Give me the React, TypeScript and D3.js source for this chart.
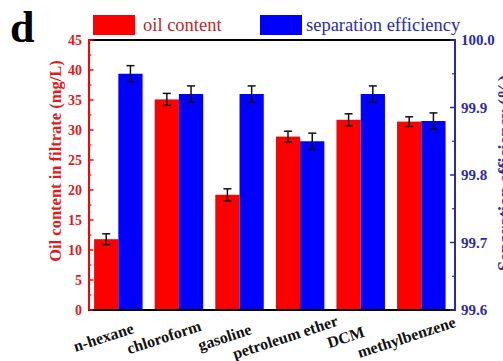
import React from 'react';
import * as d3 from 'd3';

const categories = ['n-hexane', 'chloroform', 'gasoline', 'petroleum ether', 'DCM', 'methylbenzene'];
const oilContent = [11.8, 35.1, 19.2, 28.9, 31.7, 31.4];
const oilErr = [0.9, 1.0, 1.0, 0.9, 1.0, 0.8];
const efficiency = [99.95, 99.92, 99.92, 99.85, 99.92, 99.88];
const effErr = [0.012, 0.012, 0.012, 0.012, 0.012, 0.012];
const leftTicks = [0, 5, 10, 15, 20, 25, 30, 35, 40, 45];
const rightTicks = [99.6, 99.7, 99.8, 99.9, 100.0];
const seriesNames = ['oil content', 'separation efficiency'];

const W = 503;
const H = 361;
const M = { left: 89, right: 455, top: 40, bottom: 310 };
const RED = '#ff0000';
const BLUE = '#0000ff';
const RED_TXT = '#e3191c';
const NAVY = '#2b2ba6';
const FONT = '"Liberation Serif", "Times New Roman", serif';

export default function App() {
  const x = d3.scaleBand<string>().domain(categories).range([M.left, M.right]).paddingInner(0.2).paddingOuter(0.12).align(0.35);
  const sub = d3.scaleBand<string>().domain(['oil', 'eff']).range([0, x.bandwidth()]).padding(0);
  const yL = d3.scaleLinear().domain([0, 45]).range([M.bottom, M.top]);
  const yR = d3.scaleLinear().domain([99.6, 100.0]).range([M.bottom, M.top]);
  const leftMinor = d3.range(2.5, 45, 5);
  const rightMinor = d3.range(99.65, 100.0, 0.1);
  const cap = 4;

  return (
    <>
      <style>{`body{margin:0}`}</style>
      <svg width={W} height={H} style={{ display: 'block', background: '#fff' }} fontFamily={FONT}>
        {/* panel label */}
        <text x={10} y={42} fontSize={44} fontWeight="bold" fill="#000">d</text>

        {/* legend */}
        <rect x={93} y={15} width={42} height={20} fill={RED} />
        <text x={143} y={31} fontSize={18.5} fill="#c0282a">{seriesNames[0]}</text>
        <rect x={260} y={15} width={42} height={20} fill={BLUE} />
        <text x={306} y={31} fontSize={18.5} fill={NAVY}>{seriesNames[1]}</text>

        {/* bars */}
        {categories.map((c, i) => {
          const bx = x(c)!;
          const ox = bx + sub('oil')!;
          const ex = bx + sub('eff')!;
          const bw = sub.bandwidth();
          const ocx = ox + bw / 2;
          const ecx = ex + bw / 2;
          return (
            <g key={c}>
              <rect x={ox} y={yL(oilContent[i])} width={bw} height={M.bottom - yL(oilContent[i])} fill={RED} />
              <rect x={ex} y={yR(efficiency[i])} width={bw} height={M.bottom - yR(efficiency[i])} fill={BLUE} />
              <g stroke="#111" strokeWidth={1.5}>
                <line x1={ocx} x2={ocx} y1={yL(oilContent[i] - oilErr[i])} y2={yL(oilContent[i] + oilErr[i])} />
                <line x1={ocx - cap} x2={ocx + cap} y1={yL(oilContent[i] + oilErr[i])} y2={yL(oilContent[i] + oilErr[i])} />
                <line x1={ocx - cap} x2={ocx + cap} y1={yL(oilContent[i] - oilErr[i])} y2={yL(oilContent[i] - oilErr[i])} />
                <line x1={ecx} x2={ecx} y1={yR(efficiency[i] - effErr[i])} y2={yR(efficiency[i] + effErr[i])} />
                <line x1={ecx - cap} x2={ecx + cap} y1={yR(efficiency[i] + effErr[i])} y2={yR(efficiency[i] + effErr[i])} />
                <line x1={ecx - cap} x2={ecx + cap} y1={yR(efficiency[i] - effErr[i])} y2={yR(efficiency[i] - effErr[i])} />
              </g>
            </g>
          );
        })}

        {/* frame: top and bottom black */}
        <line x1={M.left} x2={M.right} y1={M.top} y2={M.top} stroke="#000" strokeWidth={2} />
        <line x1={M.left - 1} x2={M.right + 1} y1={M.bottom} y2={M.bottom} stroke="#000" strokeWidth={2} />

        {/* left axis */}
        <line x1={M.left} x2={M.left} y1={M.top - 1} y2={M.bottom} stroke={RED} strokeWidth={2} />
        {leftTicks.map(t => (
          <g key={'l' + t}>
            <line x1={M.left} x2={M.left + 4.5} y1={yL(t)} y2={yL(t)} stroke={RED} strokeWidth={1.5} />
            <text x={M.left - 7} y={yL(t)} dy="0.35em" textAnchor="end" fontSize={14} fontWeight="bold" fill={RED_TXT}>{t}</text>
          </g>
        ))}
        {leftMinor.map(t => (
          <line key={'lm' + t} x1={M.left} x2={M.left + 2.5} y1={yL(t)} y2={yL(t)} stroke={RED} strokeWidth={1.2} />
        ))}
        <text transform={`translate(61,${(M.top + M.bottom) / 2 - 14}) rotate(-90)`} textAnchor="middle" fontSize={16.5} fontWeight="bold" fill={RED_TXT}>
          Oil content in filtrate (mg/L)
        </text>

        {/* right axis */}
        <line x1={M.right} x2={M.right} y1={M.top - 1} y2={M.bottom + 1} stroke={NAVY} strokeWidth={2} />
        {rightTicks.map(t => (
          <g key={'r' + t}>
            <line x1={M.right} x2={M.right - 5} y1={yR(t)} y2={yR(t)} stroke={NAVY} strokeWidth={1.5} />
            <text x={M.right + 6} y={yR(t)} dy="0.35em" textAnchor="start" fontSize={15} fontWeight="bold" fill={NAVY}>{d3.format('.1f')(t)}</text>
          </g>
        ))}
        {rightMinor.map(t => (
          <line key={'rm' + t} x1={M.right} x2={M.right - 3} y1={yR(t)} y2={yR(t)} stroke={NAVY} strokeWidth={1.2} />
        ))}
        <text transform={`translate(511,${(M.top + M.bottom) / 2 - 2}) rotate(-90)`} textAnchor="middle" fontSize={18} fontWeight="bold" fill={NAVY}>
          Separation efficiency (%)
        </text>

        {/* category labels */}
        {categories.map(c => {
          const cx = x(c)! + x.bandwidth() / 2 - 15;
          return (
            <text key={'c' + c} transform={`translate(${cx},${337}) rotate(-18)`} textAnchor="middle" dy="0.35em" fontSize={16} fontWeight="bold" fill="#111">
              {c}
            </text>
          );
        })}
      </svg>
    </>
  );
}
